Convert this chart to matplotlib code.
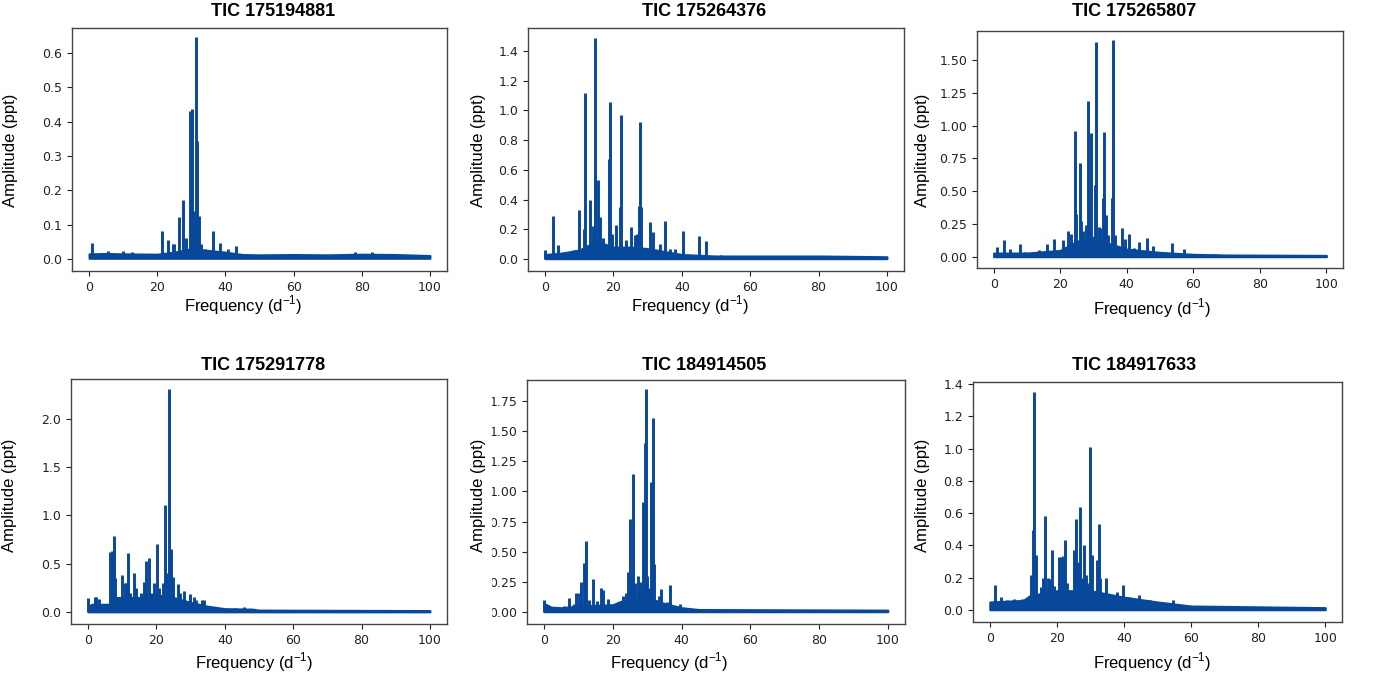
import matplotlib
matplotlib.use('Agg')
import matplotlib.pyplot as plt
from matplotlib.patches import Rectangle

plt.rcParams['font.family'] = ['Liberation Sans', 'DejaVu Sans']
plt.rcParams['mathtext.fontset'] = 'custom'
plt.rcParams['mathtext.rm'] = 'Liberation Sans'

BLUE = '#07489a'

# ---- data ----
TITLES = ['TIC 175194881', 'TIC 175264376', 'TIC 175265807',
          'TIC 175291778', 'TIC 184914505', 'TIC 184917633']

# TIC 175194881
p1_freq = [1.0, 5.5, 10.0, 12.5, 21.3, 23.3, 24.5, 25.0, 26.4, 27.7, 28.5, 29.5, 30.1, 30.7,
           31.3, 31.8, 32.2, 32.9, 34.0, 35.0, 36.5, 38.5, 40.9, 43.2, 78.0, 83.0]
p1_amp = [0.047, 0.022, 0.022, 0.02, 0.082, 0.056, 0.045, 0.043, 0.123, 0.173, 0.06, 0.432,
          0.437, 0.14, 0.646, 0.343, 0.125, 0.045, 0.03, 0.025, 0.082, 0.047, 0.028, 0.037,
          0.02, 0.02]
p1_noise_f = [0, 5, 10, 20, 25, 30, 35, 40, 45, 50, 60, 70, 80, 90, 100]
p1_noise_hi = [0.015, 0.016, 0.015, 0.014, 0.02, 0.03, 0.025, 0.02, 0.013, 0.012, 0.013,
               0.012, 0.014, 0.013, 0.01]

# TIC 175264376
p2_freq = [0.1, 2.2, 3.8, 5.5, 7.0, 8.5, 9.8, 11.3, 11.7, 13.0, 13.9, 14.5, 14.7, 15.4, 16.1,
           16.9, 18.6, 19.0, 19.6, 20.6, 21.8, 22.3, 23.7, 25.2, 26.4, 26.8, 27.4, 27.7, 28.0,
           30.1, 30.8, 31.6, 33.5, 35.1, 36.5, 38.1, 40.4, 45.0, 47.2, 51.4]
p2_amp = [0.06, 0.29, 0.096, 0.05, 0.05, 0.06, 0.33, 0.2, 1.115, 0.40, 0.22, 1.49, 0.567, 0.53,
          0.28, 0.14, 0.67, 1.06, 0.17, 0.23, 0.35, 0.972, 0.125, 0.215, 0.16, 0.17, 0.358,
          0.92, 0.35, 0.07, 0.25, 0.18, 0.1, 0.253, 0.07, 0.07, 0.185, 0.155, 0.12, 0.03]
p2_noise_f = [0, 5, 10, 15, 20, 25, 30, 35, 40, 45, 50, 60, 80, 100]
p2_noise_hi = [0.03, 0.04, 0.06, 0.12, 0.08, 0.08, 0.07, 0.05, 0.03, 0.025, 0.02, 0.02, 0.02,
               0.015]

# TIC 175265807
p3_freq = [1.1, 3.0, 4.9, 7.9, 9.3, 13.5, 16.0, 18.1, 20.8, 22.4, 23.3, 24.4, 24.9, 25.9, 26.2,
           27.0, 27.8, 28.3, 28.7, 29.2, 30.4, 30.9, 31.7, 32.1, 32.9, 33.3, 33.7, 34.4, 35.6,
           35.9, 36.4, 38.5, 39.4, 40.8, 42.1, 43.6, 46.2, 48.0, 51.4, 53.6, 57.2, 66.9]
p3_amp = [0.076, 0.132, 0.06, 0.10, 0.04, 0.05, 0.10, 0.137, 0.132, 0.196, 0.178, 0.958, 0.33,
          0.717, 0.27, 0.2, 0.24, 1.19, 0.39, 0.946, 0.55, 1.635, 0.23, 0.22, 0.45, 0.953, 0.32,
          0.17, 0.45, 1.653, 0.17, 0.22, 0.14, 0.173, 0.07, 0.114, 0.145, 0.084, 0.04, 0.107,
          0.064, 0.02]
p3_noise_f = [0, 10, 20, 25, 30, 35, 40, 50, 60, 70, 100]
p3_noise_hi = [0.03, 0.03, 0.05, 0.12, 0.15, 0.1, 0.06, 0.035, 0.02, 0.015, 0.012]

# TIC 175291778
p4_freq = [0.0, 2.0, 2.4, 3.1, 6.5, 7.1, 7.6, 8.0, 9.9, 10.7, 11.2, 11.8, 12.4, 13.3, 14.0, 15.6,
           16.3, 16.8, 17.7, 18.5, 19.3, 20.2, 20.7, 21.8, 22.4, 23.0, 23.8, 24.2, 24.7, 26.3,
           26.9, 28.1, 29.7, 31.0, 31.6, 33.4, 34.0, 43.0, 45.5]
p4_amp = [0.15, 0.16, 0.16, 0.13, 0.62, 0.635, 0.79, 0.35, 0.38, 0.3, 0.3, 0.61, 0.2, 0.405,
          0.25, 0.2, 0.31, 0.524, 0.56, 0.2, 0.3, 0.707, 0.25, 0.3, 1.107, 0.4, 2.307, 0.652,
          0.36, 0.286, 0.2, 0.214, 0.186, 0.16, 0.12, 0.12, 0.12, 0.04, 0.05]
p4_noise_f = [0, 1, 6, 8, 15, 20, 25, 30, 35, 40, 48, 50, 100]
p4_noise_hi = [0.05, 0.08, 0.08, 0.15, 0.15, 0.18, 0.15, 0.1, 0.06, 0.035, 0.03, 0.02, 0.015]

# TIC 184914505
p5_freq = [0.0, 1.0, 5.9, 7.3, 8.8, 9.4, 10.0, 10.8, 11.7, 12.1, 12.9, 14.2, 15.4, 16.5, 17.1,
           18.6, 21.6, 23.0, 23.9, 24.4, 25.0, 25.5, 25.9, 26.5, 27.4, 27.9, 28.5, 28.9, 29.3,
           29.5, 30.0, 30.4, 31.2, 31.6, 32.1, 33.3, 34.1, 35.6, 36.6, 38.1, 39.5]
p5_amp = [0.10, 0.06, 0.05, 0.115, 0.07, 0.157, 0.155, 0.248, 0.405, 0.585, 0.1, 0.273, 0.09,
          0.2, 0.18, 0.108, 0.08, 0.13, 0.16, 0.334, 0.77, 0.3, 1.146, 0.24, 0.295, 0.25, 0.2,
          0.91, 1.405, 1.847, 0.3, 0.2, 1.076, 1.606, 0.4, 0.13, 0.19, 0.08, 0.224, 0.04, 0.07]
p5_noise_f = [0, 2, 5, 10, 20, 25, 30, 35, 40, 45, 100]
p5_noise_hi = [0.07, 0.04, 0.035, 0.05, 0.06, 0.12, 0.12, 0.07, 0.035, 0.02, 0.015]

# TIC 184917633
p6_freq = [0.7, 1.5, 3.3, 5.0, 7.3, 9.5, 12.3, 12.8, 13.2, 13.7, 15.3, 15.9, 16.5, 17.5, 18.0,
           18.6, 19.2, 20.6, 21.1, 21.7, 22.4, 23.1, 25.1, 25.8, 26.4, 27.0, 27.4, 28.0, 28.8,
           29.3, 30.0, 30.4, 31.9, 32.6, 33.0, 34.6, 37.2, 38.0, 39.7, 41.4, 44.4, 47.7, 51.3,
           54.6, 55.8, 81.3]
p6_amp = [0.05, 0.153, 0.08, 0.06, 0.07, 0.07, 0.22, 0.497, 1.353, 0.342, 0.14, 0.2, 0.58, 0.2,
          0.19, 0.373, 0.15, 0.326, 0.33, 0.338, 0.435, 0.17, 0.37, 0.565, 0.3, 0.637, 0.2, 0.4,
          0.22, 0.17, 1.01, 0.34, 0.31, 0.534, 0.2, 0.196, 0.09, 0.11, 0.155, 0.08, 0.095, 0.06,
          0.04, 0.062, 0.035, 0.02]
p6_noise_f = [0, 10, 12, 20, 30, 40, 50, 60, 100]
p6_noise_hi = [0.05, 0.06, 0.09, 0.12, 0.12, 0.08, 0.05, 0.025, 0.015]

Y_TICKS = [[0.0, 0.1, 0.2, 0.3, 0.4, 0.5, 0.6],
           [0.0, 0.2, 0.4, 0.6, 0.8, 1.0, 1.2, 1.4],
           [0.0, 0.25, 0.5, 0.75, 1.0, 1.25, 1.5],
           [0.0, 0.5, 1.0, 1.5, 2.0],
           [0.0, 0.25, 0.5, 0.75, 1.0, 1.25, 1.5, 1.75],
           [0.0, 0.2, 0.4, 0.6, 0.8, 1.0, 1.2, 1.4]]
X_TICKS = [0, 20, 40, 60, 80, 100]

# ---- layout in pixels (each panel was a separate figure pasted together) ----
W, H = 1375, 679
# axes box: left, top, right, bottom
BOXES = [(72, 28, 447, 271), (528, 28, 904, 271), (977, 31, 1343, 268),
         (71, 379, 447, 624), (527, 380, 905, 624), (973, 382, 1342, 622)]
YLIMS = [(-0.035, 0.673), (-0.081, 1.555), (-0.084, 1.72),
         (-0.124, 2.414), (-0.1, 1.924), (-0.074, 1.413)]
TITLE_XY = [(273, 11), (704, 11), (1134, 11), (263, 366), (704, 366), (1134, 366)]
YLAB_XY = [(11, 150), (478, 150), (923, 150), (10, 495), (478, 495), (923, 495)]
XLAB_XY = [(243, 305), (690, 305), (1152, 308), (254, 662), (669, 662), (1152, 662)]

panels = [(p1_freq, p1_amp, p1_noise_f, p1_noise_hi),
          (p2_freq, p2_amp, p2_noise_f, p2_noise_hi),
          (p3_freq, p3_amp, p3_noise_f, p3_noise_hi),
          (p4_freq, p4_amp, p4_noise_f, p4_noise_hi),
          (p5_freq, p5_amp, p5_noise_f, p5_noise_hi),
          (p6_freq, p6_amp, p6_noise_f, p6_noise_hi)]

fig = plt.figure(figsize=(W / 100, H / 100), dpi=100)


def fx(x):
    return x / W


def fy(y):
    return 1 - y / H


for i, (freq, amp, nf, nh) in enumerate(panels):
    l, t, r, b = BOXES[i]
    ax = fig.add_axes([fx(l), fy(b), (r - l) / W, (b - t) / H])

    # noise floor as a band, then the individual peaks
    ax.fill_between(nf, 0.002, nh, color=BLUE, linewidth=1.5)
    ax.vlines(freq, 0.003, amp, color=BLUE, linewidth=2.1)

    ax.set_xlim(-5, 105)
    ax.set_ylim(*YLIMS[i])
    ax.set_xticks(X_TICKS)
    ax.set_yticks(Y_TICKS[i])
    ax.tick_params(labelsize=9, colors='#222222', length=3.5, width=0.8)
    for lab in ax.get_xticklabels() + ax.get_yticklabels():
        lab.set_family('DejaVu Sans')
    for s in ax.spines.values():
        s.set_color('#444444')
        s.set_linewidth(1.0)

    fig.text(fx(TITLE_XY[i][0]), fy(TITLE_XY[i][1]), TITLES[i], fontsize=13,
             fontweight='bold', ha='center', va='center')
    fig.text(fx(YLAB_XY[i][0]), fy(YLAB_XY[i][1]), 'Amplitude (ppt)', fontsize=12,
             rotation=90, ha='center', va='center')
    fig.text(fx(XLAB_XY[i][0]), fy(XLAB_XY[i][1]), r'Frequency (d$^{\mathregular{-1}}$)',
             fontsize=12, ha='center', va='center')

# the fifth panel's tick labels were cut at the left edge of its image
fig.add_artist(Rectangle((fx(486), fy(624)), 5 / W, (624 - 380) / H,
                         transform=fig.transFigure, color='white', zorder=10))

fig.savefig('out.png', dpi=100)
